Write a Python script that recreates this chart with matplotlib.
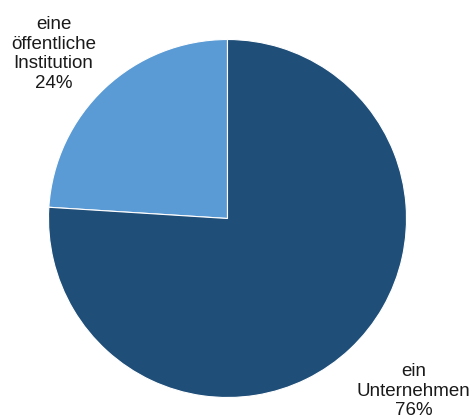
import matplotlib.pyplot as plt

plt.rcParams['font.family'] = ['Liberation Sans', 'DejaVu Sans']

categories = ["eine\nöffentliche\nInstitution", "ein\nUnternehmen"]
shares = [24, 76]
colors = ["#5B9BD5", "#1F4E79"]

fig = plt.figure(figsize=(4.76, 4.19), dpi=100)
ax = fig.add_axes([48.5 / 476, 21.5 / 419, 358 / 476, 358 / 419])

ax.pie(shares, colors=colors, startangle=90, counterclock=True, radius=1,
       wedgeprops={"edgecolor": "white", "linewidth": 0.8})

# category labels outside the pie, one above left, one below right
label_pos = [(-0.972, 0.919), (1.04, -0.964)]
for (x, y), name, val in zip(label_pos, categories, shares):
    ax.text(x, y, f"{name}\n{val}%", ha="center", va="center",
            fontsize=13.5, color="#1a1a1a", linespacing=1.19, clip_on=False)

ax.set_xlim(-1, 1)
ax.set_ylim(-1, 1)
ax.set_aspect("equal")
ax.axis("off")

plt.savefig("out.png", dpi=100)
